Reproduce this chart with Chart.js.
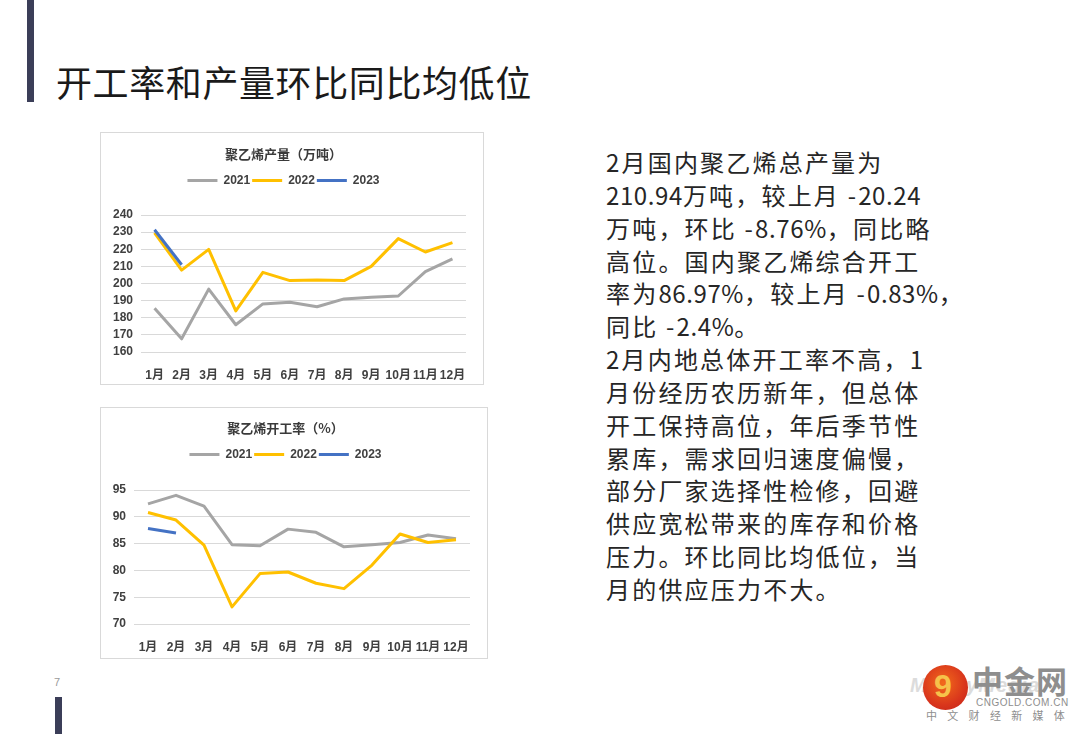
<!DOCTYPE html>
<html>
<head>
<meta charset="utf-8">
<script src="https://cdn.jsdelivr.net/npm/chart.js@4.4.1/dist/chart.umd.min.js"></script>
<style>
  body { margin: 0; width: 1080px; height: 734px; background: #fff; position: relative; overflow: hidden;
         font-family: "Noto Sans CJK SC", sans-serif; }
  .bar { position: absolute; background: #3b3e58; }
  .title { position: absolute; left: 56px; top: 56px; font-size: 36px; letter-spacing: 0.6px; color: #1a1a1a; white-space: nowrap; line-height: 50px; }
  .box { position: absolute; border: 1px solid #d9d9d9; box-sizing: border-box; }
  .box div { position: absolute; left: 0; top: 0; right: 0; bottom: 0; }
  .text { position: absolute; left: 606px; top: 146px; font-size: 24px; line-height: 32.85px; letter-spacing: 2.2px;
          color: #262626; white-space: nowrap; }
  .text .n { letter-spacing: 0.6px; }
  .pageno { position: absolute; left: 54px; top: 676px; font-size: 11px; color: #9a9a9a; font-family: "Liberation Sans", sans-serif; }
  .logo-circle { position: absolute; left: 923px; top: 665px; width: 45px; height: 45px; border-radius: 50%;
                 background: radial-gradient(circle at 45% 40%, #f26a1b 0%, #d9361c 60%, #c0201a 100%); }
  .logo-circle span { position: absolute; left: 11px; top: 3px; font: bold 32px "Liberation Sans", sans-serif; color: #f6c24a; }
  .logo-ghost { position: absolute; left: 910px; top: 674px; font: italic bold 20px "Liberation Sans", sans-serif; color: #dcdcdc; letter-spacing: 1px; }
  .logo-name { position: absolute; left: 972px; top: 657px; font-size: 31px; font-weight: bold; color: #8e8e8e; letter-spacing: 1px; }
  .logo-url { position: absolute; left: 976px; top: 697px; font: 10px "Liberation Sans", sans-serif; color: #8e8e8e; letter-spacing: 0.5px; }
  .logo-sub { position: absolute; left: 926px; top: 707px; font-size: 11px; color: #8e8e8e; letter-spacing: 10.3px; }
</style>
</head>
<body>
<div class="bar" style="left:27px;top:0;width:7px;height:102px;"></div>
<div class="bar" style="left:55px;top:697px;width:7px;height:37px;"></div>
<div class="title">开工率和产量环比同比均低位</div>

<div class="box" style="left:100px;top:132px;width:384px;height:253px;"><div><canvas id="outputChart"></canvas></div></div>
<div class="box" style="left:100px;top:407px;width:388px;height:252px;"><div><canvas id="rateChart"></canvas></div></div>

<div class="text">2月国内聚乙烯总产量为<br><span class="n">210.94</span>万吨，较上月 -<span class="n">20.24</span><br>万吨，环比 -<span class="n">8.76%</span>，同比略<br>高位。国内聚乙烯综合开工<br>率为<span class="n">86.97%</span>，较上月 -<span class="n">0.83%</span>，<br>同比 -<span class="n">2.4%</span>。<br>2月内地总体开工率不高，1<br>月份经历农历新年，但总体<br>开工保持高位，年后季节性<br>累库，需求回归速度偏慢，<br>部分厂家选择性检修，回避<br>供应宽松带来的库存和价格<br>压力。环比同比均低位，当<br>月的供应压力不大。</div>

<div class="pageno">7</div>
<div class="logo-ghost">MoneyMedia</div>
<div class="logo-circle"><span>9</span></div>
<div class="logo-name">中金网</div>
<div class="logo-url">CNGOLD.COM.CN</div>
<div class="logo-sub">中文财经新媒体</div>

<script>
// categories and series
const months = ['1月', '2月', '3月', '4月', '5月', '6月', '7月', '8月', '9月', '10月', '11月', '12月'];
const years = ['2021', '2022', '2023'];
const colors = ['#a5a5a5', '#ffc000', '#4472c4'];

// 聚乙烯产量（万吨）
const output2021 = [185.5, 167.7, 196.7, 175.9, 188.1, 189.1, 186.4, 191.0, 192.0, 192.7, 206.9, 214.4];
const output2022 = [229.5, 207.8, 219.9, 184.0, 206.5, 201.7, 202.1, 201.7, 210.0, 226.2, 218.4, 223.9];
const output2023 = [231.4, 210.94];
const outputTicks = [160, 170, 180, 190, 200, 210, 220, 230, 240];

// 聚乙烯开工率（%）
const rate2021 = [92.4, 94.0, 92.0, 84.8, 84.6, 87.7, 87.1, 84.4, 84.8, 85.2, 86.6, 85.9];
const rate2022 = [90.8, 89.4, 84.7, 73.2, 79.4, 79.7, 77.6, 76.6, 81.0, 86.8, 85.2, 85.7];
const rate2023 = [87.8, 86.97];
const rateTicks = [70, 75, 80, 85, 90, 95];

const tickFont = { family: '"Liberation Sans", "Noto Sans CJK SC", sans-serif', size: 12, weight: 'bold' };

// make the legend block a fixed height so the plot starts where it should
function legendHeight(h) {
    return {
        id: 'legendHeight',
        beforeInit(chart) {
            const origFit = chart.legend.fit;
            chart.legend.fit = function () {
                origFit.bind(chart.legend)();
                this.height = h;
            };
        }
    };
}

function buildChart(id, title, series, ticks, box) {
    const datasets = series.map((values, i) => ({
        label: years[i],
        data: values,
        borderColor: colors[i],
        backgroundColor: colors[i],
        borderWidth: 3,
        borderJoinStyle: 'round',
        pointRadius: 0,
        tension: 0,
        order: 3 - i
    }));

    return new Chart(document.getElementById(id), {
        type: 'line',
        data: { labels: months, datasets: datasets },
        options: {
            responsive: true,
            maintainAspectRatio: false,
            animation: false,
            layout: { padding: { left: 0, right: box.right, top: 0, bottom: 0 } },
            plugins: {
                tooltip: { enabled: false },
                title: {
                    display: true,
                    text: title,
                    color: '#3a3a3a',
                    font: { family: '"Noto Sans CJK SC", sans-serif', size: 13, weight: 'bold' },
                    padding: { top: box.titleTop, bottom: 11 }
                },
                legend: {
                    display: true,
                    labels: {
                        boxWidth: 30,
                        boxHeight: 3,
                        padding: 2,
                        color: '#404040',
                        font: tickFont,
                        generateLabels(chart) {
                            return Chart.defaults.plugins.legend.labels.generateLabels(chart)
                                .map(item => Object.assign(item, { lineWidth: 0 }))
                                .sort((a, b) => a.datasetIndex - b.datasetIndex);
                        }
                    }
                }
            },
            scales: {
                x: {
                    offset: true,
                    grid: { display: false },
                    border: { display: false },
                    ticks: { color: '#404040', font: tickFont, padding: 8, maxRotation: 0, autoSkip: false },
                    afterFit(axis) { axis.height = box.bottom; }
                },
                y: {
                    min: ticks[0],
                    max: ticks[ticks.length - 1],
                    afterBuildTicks(axis) { axis.ticks = ticks.map(v => ({ value: v })); },
                    grid: { color: '#d9d9d9', lineWidth: 1, drawTicks: false },
                    border: { display: false },
                    ticks: { color: '#404040', font: tickFont, padding: 8, autoSkip: false },
                    afterFit(axis) { axis.width = box.left; }
                }
            }
        },
        plugins: [legendHeight(box.legend)]
    });
}

buildChart('outputChart', '聚乙烯产量（万吨）', [output2021, output2022, output2023], outputTicks,
    { left: 40, right: 17, bottom: 32, titleTop: 13, legend: 42.4 });
buildChart('rateChart', '聚乙烯开工率（%）', [rate2021, rate2022, rate2023], rateTicks,
    { left: 33, right: 17, bottom: 34, titleTop: 12, legend: 43.4 });
</script>
</body>
</html>
